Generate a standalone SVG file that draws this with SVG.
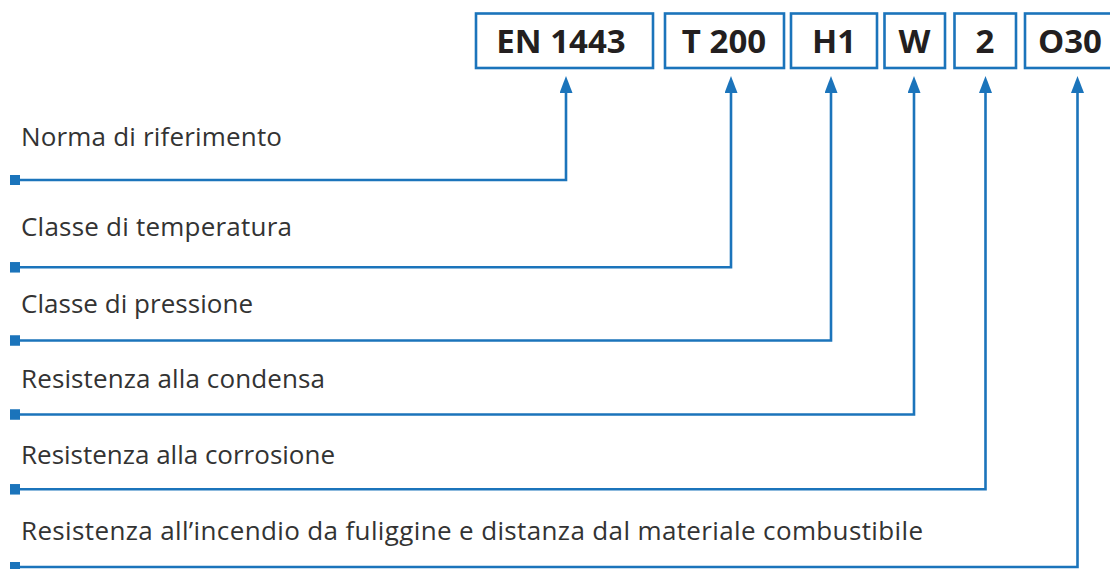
<svg xmlns="http://www.w3.org/2000/svg" width="1110" height="569" viewBox="0 0 1110 569">
  <style>
    .box { fill: #ffffff; stroke: #1b74bb; stroke-width: 2.6; }
    .code { font-family: "Open Sans", "Liberation Sans", sans-serif; font-weight: 700; font-size: 33px; fill: #231f20; text-anchor: middle; }
    .label { font-family: "Open Sans", "Liberation Sans", sans-serif; font-weight: 400; font-size: 26px; fill: #333333; }
    .conn { fill: none; stroke: #1b74bb; stroke-width: 2.6; marker-start: url(#sq); marker-end: url(#arr); }
  </style>
  <defs>
    <marker id="arr" markerUnits="userSpaceOnUse" viewBox="0 0 17 13" markerWidth="17" markerHeight="13" refX="2" refY="6.5" orient="auto">
      <path d="M0,0 L17,6.5 L0,13 Z" fill="#1b74bb"/>
    </marker>
    <marker id="sq" markerUnits="userSpaceOnUse" viewBox="0 0 10.5 10.5" markerWidth="10.5" markerHeight="10.5" refX="10.5" refY="5.25" orient="auto">
      <rect x="0" y="0" width="10.5" height="10.5" fill="#1b74bb"/>
    </marker>
  </defs>

  <g id="node-en1443">
    <rect class="box" x="476" y="13.5" width="177" height="54.5"/>
    <text class="code" x="561" y="53">EN 1443</text>
  </g>
  <g id="node-t200">
    <rect class="box" x="665" y="13.5" width="119" height="54.5"/>
    <text class="code" x="724" y="53">T 200</text>
  </g>
  <g id="node-h1">
    <rect class="box" x="791" y="13.5" width="86" height="54.5"/>
    <text class="code" x="834" y="53">H1</text>
  </g>
  <g id="node-w">
    <rect class="box" x="884.5" y="13.5" width="60.5" height="54.5"/>
    <text class="code" x="914.5" y="53">W</text>
  </g>
  <g id="node-2">
    <rect class="box" x="954.5" y="13.5" width="61.5" height="54.5"/>
    <text class="code" x="985" y="53">2</text>
  </g>
  <g id="node-o30">
    <rect class="box" x="1025" y="13.5" width="89" height="54.5"/>
    <text class="code" x="1070" y="53">O30</text>
  </g>

  <g id="labels">
    <text class="label" x="21" y="146" textLength="261" lengthAdjust="spacing">Norma di riferimento</text>
    <text class="label" x="21" y="236" textLength="271" lengthAdjust="spacing">Classe di temperatura</text>
    <text class="label" x="21" y="313" textLength="232" lengthAdjust="spacing">Classe di pressione</text>
    <text class="label" x="21" y="388" textLength="304" lengthAdjust="spacing">Resistenza alla condensa</text>
    <text class="label" x="21" y="464" textLength="314" lengthAdjust="spacing">Resistenza alla corrosione</text>
    <text class="label" x="21" y="540" textLength="902" lengthAdjust="spacing">Resistenza all’incendio da fuliggine e distanza dal materiale combustibile</text>
  </g>

  <g id="connectors">
    <path class="conn" d="M20,180 H566 V91"/>
    <path class="conn" d="M20,267.3 H731 V91"/>
    <path class="conn" d="M20,340.5 H831 V91"/>
    <path class="conn" d="M20,414.5 H914 V91"/>
    <path class="conn" d="M20,489.3 H985.5 V91"/>
    <path class="conn" d="M20,567 H1077.5 V91"/>
  </g>
</svg>
